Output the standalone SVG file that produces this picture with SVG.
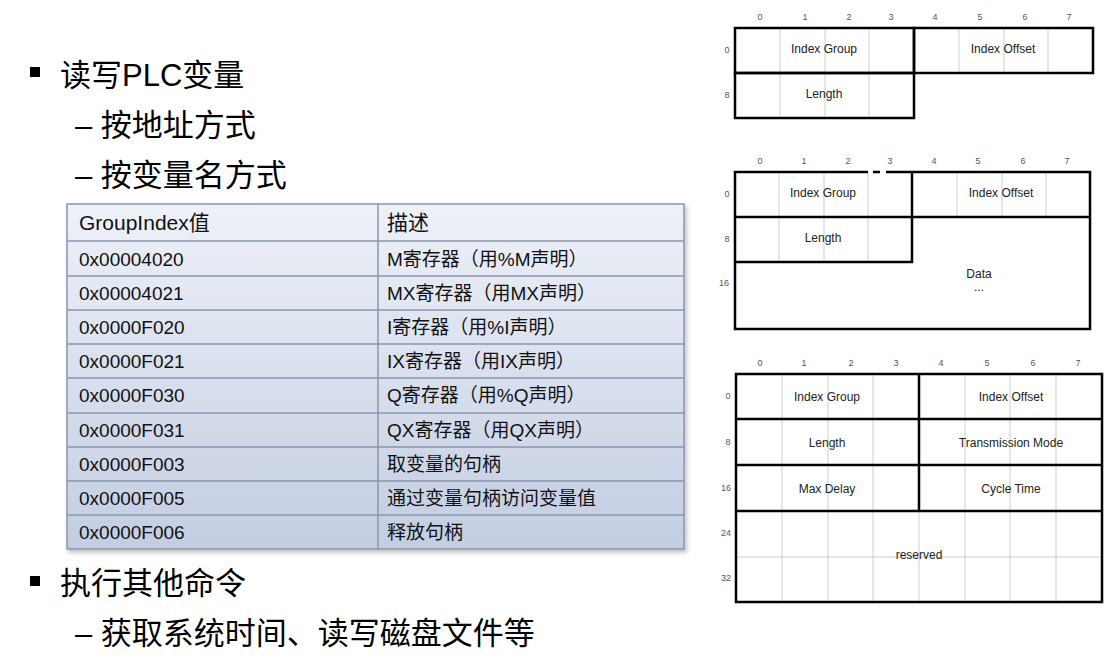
<svg xmlns="http://www.w3.org/2000/svg" width="1115" height="667" viewBox="0 0 1115 667">
<style>
.t{font-family:"Liberation Sans","Noto Sans CJK SC",sans-serif;fill:#000}
.b1{font-size:31px}.b2{font-size:31px}
.tc{font-size:19px;fill:#111}
.n{font-family:"Liberation Sans",sans-serif;font-size:9px;fill:#555;text-anchor:middle}
.l{font-family:"Liberation Sans",sans-serif;font-size:12px;fill:#222;text-anchor:middle}
.g{stroke:#ccc;stroke-width:1}
.k{fill:none;stroke:#000;stroke-width:2.5}
.row{stroke:#8a96ae;stroke-width:1.5}
</style>
<defs>
<linearGradient id="tg" x1="0" y1="0" x2="0" y2="1">
<stop offset="0" stop-color="#eef1f8"/><stop offset="1" stop-color="#c3cde2"/>
</linearGradient>
<filter id="sh" x="-5%" y="-5%" width="110%" height="110%"><feDropShadow dx="2" dy="3" stdDeviation="2" flood-color="#000" flood-opacity="0.25"/></filter>
</defs>
<rect width="1115" height="667" fill="#fff"/>
<g id="bullets">
<rect x="30" y="67" width="10" height="10" fill="#000"/>
<text class="t b1" x="60" y="86">读写PLC变量</text>
<text class="t b2" x="75" y="136">–  按地址方式</text>
<text class="t b2" x="75" y="186">–  按变量名方式</text>
<rect x="30" y="576" width="10" height="10" fill="#000"/>
<text class="t b1" x="60" y="594">执行其他命令</text>
<text class="t b2" x="75" y="644">–  获取系统时间、读写磁盘文件等</text>
</g>
<g id="table">
<rect x="67" y="204" width="617" height="345" fill="url(#tg)" stroke="#8a96ae" stroke-width="1.5" filter="url(#sh)"/>
<line class="row" x1="378" y1="204" x2="378" y2="549"/>
<line class="row" x1="67" y1="241" x2="684" y2="241"/>
<line class="row" x1="67" y1="276" x2="684" y2="276"/>
<line class="row" x1="67" y1="310" x2="684" y2="310"/>
<line class="row" x1="67" y1="344" x2="684" y2="344"/>
<line class="row" x1="67" y1="378" x2="684" y2="378"/>
<line class="row" x1="67" y1="413" x2="684" y2="413"/>
<line class="row" x1="67" y1="447" x2="684" y2="447"/>
<line class="row" x1="67" y1="481" x2="684" y2="481"/>
<line class="row" x1="67" y1="515" x2="684" y2="515"/>
<g class="t tc">
<text x="79" y="230" font-size="21">GroupIndex值</text><text x="387" y="230" font-size="21">描述</text>
<text x="79" y="266">0x00004020</text><text x="387" y="266">M寄存器（用%M声明）</text>
<text x="79" y="300">0x00004021</text><text x="387" y="300">MX寄存器（用MX声明）</text>
<text x="79" y="334">0x0000F020</text><text x="387" y="334">I寄存器（用%I声明）</text>
<text x="79" y="368">0x0000F021</text><text x="387" y="368">IX寄存器（用IX声明）</text>
<text x="79" y="402">0x0000F030</text><text x="387" y="402">Q寄存器（用%Q声明）</text>
<text x="79" y="437">0x0000F031</text><text x="387" y="437">QX寄存器（用QX声明）</text>
<text x="79" y="471">0x0000F003</text><text x="387" y="471">取变量的句柄</text>
<text x="79" y="505">0x0000F005</text><text x="387" y="505">通过变量句柄访问变量值</text>
<text x="79" y="539">0x0000F006</text><text x="387" y="539">释放句柄</text>
</g>
</g>
<g id="diagram1">
<g class="n"><text x="760" y="20">0</text><text x="805" y="20">1</text><text x="849" y="20">2</text><text x="891" y="20">3</text><text x="935" y="20">4</text><text x="980" y="20">5</text><text x="1025" y="20">6</text><text x="1069" y="20">7</text><text x="727" y="53">0</text><text x="727" y="98">8</text></g>
<g class="g"><line x1="780" y1="28" x2="780" y2="118"/><line x1="825" y1="28" x2="825" y2="118"/><line x1="869" y1="28" x2="869" y2="118"/><line x1="959" y1="28" x2="959" y2="73"/><line x1="1004" y1="28" x2="1004" y2="73"/><line x1="1048" y1="28" x2="1048" y2="73"/></g>
<rect class="k" x="735" y="28" width="179" height="45"/><rect class="k" x="914" y="28" width="179" height="45"/><rect class="k" x="735" y="73" width="179" height="45"/>
<text class="l" x="824" y="53">Index Group</text><text class="l" x="1003" y="53">Index Offset</text><text class="l" x="824" y="98">Length</text>
</g>
<g id="diagram2">
<g class="n"><text x="760" y="164">0</text><text x="804" y="164">1</text><text x="848" y="164">2</text><text x="890" y="164">3</text><text x="934" y="164">4</text><text x="978" y="164">5</text><text x="1023" y="164">6</text><text x="1067" y="164">7</text><text x="727" y="197">0</text><text x="727" y="242">8</text><text x="724" y="286">16</text></g>
<g class="g"><line x1="779" y1="172" x2="779" y2="262"/><line x1="824" y1="172" x2="824" y2="262"/><line x1="868" y1="172" x2="868" y2="262"/><line x1="957" y1="172" x2="957" y2="217"/><line x1="1002" y1="172" x2="1002" y2="217"/><line x1="1046" y1="172" x2="1046" y2="217"/></g>
<path class="k" d="M868 172 H735 V329 H1090 V172 H886 M873 172 H880"/>
<path class="k" d="M912 172 V262 H735 M735 217 H1090"/>
<text class="l" x="823" y="197">Index Group</text><text class="l" x="1001" y="197">Index Offset</text><text class="l" x="823" y="242">Length</text>
<text class="l" x="979" y="278">Data</text><text class="l" x="979" y="291">...</text>
</g>
<g id="diagram3">
<g class="n"><text x="760" y="366">0</text><text x="804" y="366">1</text><text x="851" y="366">2</text><text x="896" y="366">3</text><text x="941" y="366">4</text><text x="987" y="366">5</text><text x="1033" y="366">6</text><text x="1078" y="366">7</text><text x="728" y="399">0</text><text x="728" y="445">8</text><text x="726" y="491">16</text><text x="726" y="536">24</text><text x="726" y="581">32</text></g>
<g class="g"><line x1="782" y1="374" x2="782" y2="602"/><line x1="828" y1="374" x2="828" y2="602"/><line x1="873" y1="374" x2="873" y2="602"/><line x1="919" y1="511" x2="919" y2="602"/><line x1="965" y1="374" x2="965" y2="602"/><line x1="1010" y1="374" x2="1010" y2="602"/><line x1="1056" y1="374" x2="1056" y2="602"/><line x1="736" y1="557" x2="1102" y2="557"/></g>
<rect class="k" x="736" y="374" width="366" height="228"/>
<path class="k" d="M919 374 V511 M736 419 H1102 M736 465 H1102 M736 511 H1102"/>
<text class="l" x="827" y="401">Index Group</text><text class="l" x="1011" y="401">Index Offset</text>
<text class="l" x="827" y="447">Length</text><text class="l" x="1011" y="447">Transmission Mode</text>
<text class="l" x="827" y="493">Max Delay</text><text class="l" x="1011" y="493">Cycle Time</text>
<text class="l" x="919" y="559">reserved</text>
</g>
</svg>
